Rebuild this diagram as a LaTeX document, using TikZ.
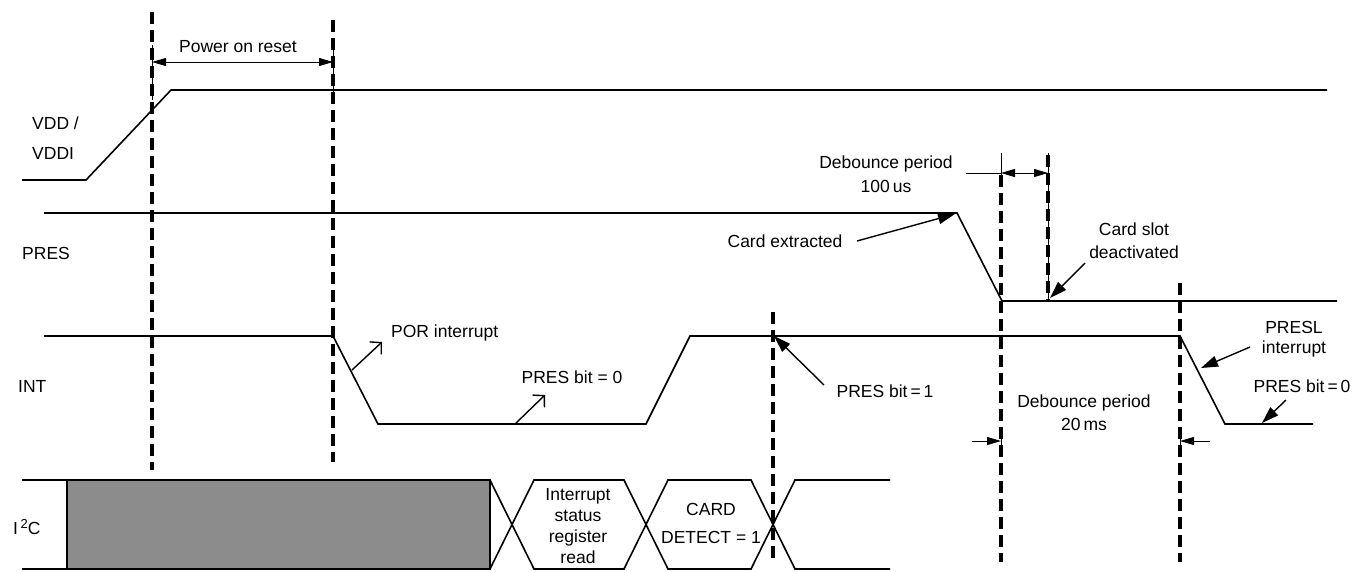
\documentclass[tikz,border=0pt]{standalone}
\usepackage{fontspec}
\setmainfont{Liberation Sans}
\usetikzlibrary{arrows.meta}
\definecolor{boxgray}{RGB}{140,140,140}
\begin{document}
\begin{tikzpicture}[x=1pt,y=-1pt,
  sig/.style={line width=1.6pt, line join=miter},
  dline/.style={line width=3.6pt, dash pattern=on 12pt off 6pt},
  thinl/.style={line width=0.9pt},
  dimtip/.style={thinl, {Triangle[length=14pt,width=8pt]}-{Triangle[length=14pt,width=8pt]}},
  dimone/.style={thinl, -{Triangle[length=14pt,width=8pt]}},
  callf/.style={line width=1.4pt, -{Triangle[length=17pt,width=11pt]}},
  callo/.style={line width=1.4pt, -{Straight Barb[length=8pt,width=17pt,line width=1.4pt]}},
  txt/.style={font=\fontsize{17.5}{22}\selectfont, inner sep=0pt},
  lbl/.style={txt, align=center},
  lbll/.style={lbl, align=left, anchor=west}]
\useasboundingbox (0,0) rectangle (1366,571);

% ---- signals
\draw[sig] (22,180) -- (86,180) -- (171,90) -- (1327,90);
\draw[sig] (44,213) -- (957,213) -- (1002,301) -- (1337,301);
\draw[sig] (44,336) -- (333,336) -- (378,424) -- (646,424) -- (690,336) -- (1180,336) -- (1225,424) -- (1313,424);

% ---- I2C bus
\draw[sig] (22,480) -- (67,480);
\draw[sig] (22,569) -- (67,569);
\draw[sig, fill=boxgray] (67,480) rectangle (490,569);
\draw[sig] (490,480) -- (534,569) -- (624,569) -- (668,480) -- (751,480) -- (795,569) -- (890,569);
\draw[sig] (490,569) -- (534,480) -- (624,480) -- (668,569) -- (751,569) -- (795,480) -- (890,480);

% ---- dashed markers
\draw[dline] (152,12) -- (152,470);
\draw[dline] (333,20) -- (333,462);
\draw[dline] (773,312) -- (773,562);
\draw[dline] (1001,175) -- (1001,562);
\draw[dline] (1048,155) -- (1048,302);
\draw[dline] (1180,283) -- (1180,562);

% ---- thin extension lines
\draw[thinl] (152,45) -- (152,100);
\draw[thinl] (333,45) -- (333,100);
\draw[thinl] (1001,153) -- (1001,185);
\draw[thinl] (1048,153) -- (1048,302);
\draw[thinl] (1001,430) -- (1001,455);
\draw[thinl] (1180,430) -- (1180,455);

% ---- dimensions
\coordinate (porL) at (152,62);
\coordinate (porR) at (333,62);
\draw[dimtip] (porL) -- (porR);
\node[lbl] (por) at (238,47) {Power on reset};

\coordinate (d1ext) at (966,173);
\coordinate (d1L) at (1001,173);
\coordinate (d1R) at (1048,173);
\draw[thinl] (d1ext) -- (d1L);
\draw[dimtip] (d1L) -- (d1R);
\node[lbl, execute at begin node={\setlength{\baselineskip}{24pt}}] (deb1) at (886,174) {Debounce period\\100\,us};

\coordinate (d2a) at (972,441);
\coordinate (d2b) at (1001,441);
\coordinate (d2c) at (1210,441);
\coordinate (d2d) at (1180,441);
\draw[dimone] (d2a) -- (d2b);
\draw[dimone] (d2c) -- (d2d);
\node[lbl, execute at begin node={\setlength{\baselineskip}{23pt}}] (deb2) at (1084,413) {Debounce period\\20\,ms};

% ---- signal names
\node[lbll, execute at begin node={\setlength{\baselineskip}{30pt}}] (vdd) at (32,138) {VDD /\\VDDI};
\node[lbll] (pres) at (22,253) {PRES};
\node[lbll] (int) at (18,386) {INT};
\node[txt, anchor=west] (i2c) at (13,527) {I\hspace{2.5pt}\raisebox{6pt}{\fontsize{13}{13}\selectfont 2}C};

% ---- callouts
\node[lbl] (ce) at (785,241) {Card extracted};
\coordinate (ceS) at (857,241);
\coordinate (ceT) at (955,214);
\draw[callf] (ceS) -- (ceT);

\node[lbl, execute at begin node={\setlength{\baselineskip}{23pt}}] (csd) at (1134,241) {Card slot\\deactivated};
\coordinate (csS) at (1085,263);
\coordinate (csT) at (1050,298);
\draw[callf] (csS) -- (csT);

\node[lbll] (pori) at (391,333) {POR interrupt};
\coordinate (poS) at (352,370);
\coordinate (poT) at (382,342);
\draw[callo] (poS) -- (poT);

\node[lbl] (pb0a) at (572,377) {PRES bit = 0};
\coordinate (p0S) at (515,424);
\coordinate (p0T) at (545,395);
\draw[callo] (p0S) -- (p0T);

\node[lbl] (pb1) at (885,391) {PRES bit\,=\,1};
\coordinate (p1S) at (824,385);
\coordinate (p1T) at (774,336);
\draw[callf] (p1S) -- (p1T);

\node[lbl, execute at begin node={\setlength{\baselineskip}{20pt}}] (presl) at (1294,339) {PRESL\\interrupt};
\coordinate (plS) at (1250,347);
\coordinate (plT) at (1201,368);
\draw[callf] (plS) -- (plT);

\node[lbl] (pb0b) at (1302,386) {PRES bit\,=\,0};
\coordinate (pbS) at (1286,400);
\coordinate (pbT) at (1262,423);
\draw[callf] (pbS) -- (pbT);

% ---- bus contents
\node[lbl, execute at begin node={\setlength{\baselineskip}{21pt}}] (isr) at (578,526) {Interrupt\\status\\register\\read};
\node[lbl, execute at begin node={\setlength{\baselineskip}{28pt}}] (cd) at (711,523) {CARD\\DETECT = 1};
\end{tikzpicture}
\end{document}
